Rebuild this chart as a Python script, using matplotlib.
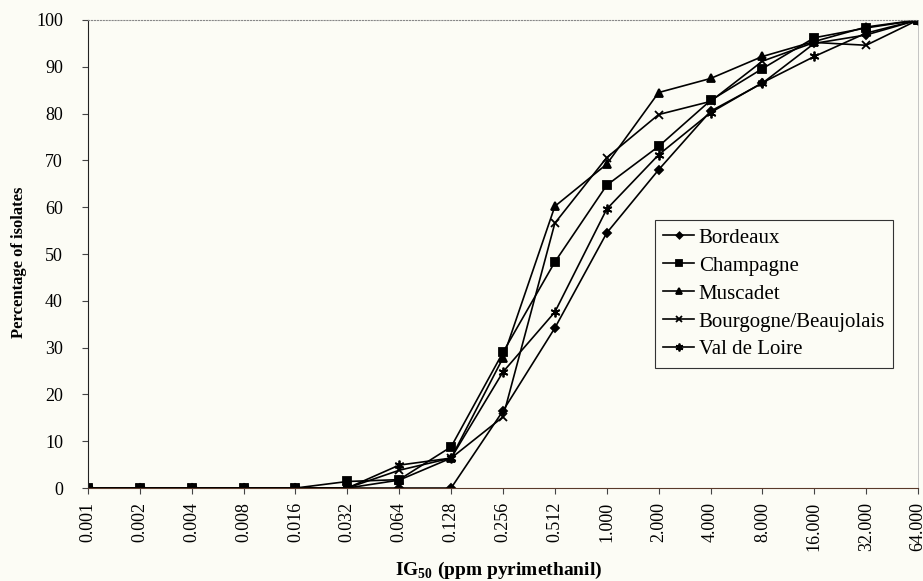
import matplotlib.pyplot as plt

# IG50 classes (ppm pyrimethanil), cumulative percentage of isolates
DOSES = ["0.001", "0.002", "0.004", "0.008", "0.016", "0.032", "0.064", "0.128",
         "0.256", "0.512", "1.000", "2.000", "4.000", "8.000", "16.000",
         "32.000", "64.000"]
YTICKS = [0, 10, 20, 30, 40, 50, 60, 70, 80, 90, 100]

bordeaux   = [0, 0, 0, 0, 0, 0, 0, 0, 16.5, 34.2, 54.5, 68.0, 80.5, 86.5, 95.0, 96.8, 100]
champagne  = [0, 0, 0, 0, 0, 1.4, 1.8, 8.8, 29.0, 48.3, 64.7, 73.0, 82.8, 89.6, 96.2, 98.3, 100]
muscadet   = [0, 0, 0, 0, 0, 0, 1.7, 6.4, 27.8, 60.2, 69.2, 84.5, 87.5, 92.2, 95.4, 98.5, 100]
bourgogne  = [0, 0, 0, 0, 0, 0, 3.8, 6.4, 15.2, 56.6, 70.6, 79.8, 82.6, 91.2, 95.2, 94.6, 100]
val_loire  = [0, 0, 0, 0, 0, 0, 4.9, 6.4, 24.8, 37.6, 59.6, 71.2, 80.2, 86.6, 92.2, 97.2, 100]

SERIES = [
    ("Bordeaux", bordeaux, "D", 4),
    ("Champagne", champagne, "s", 6),
    ("Muscadet", muscadet, "^", 6),
    ("Bourgogne/Beaujolais", bourgogne, "x", 6),
    ("Val de Loire", val_loire, (6, 2, 0), 7),
]

plt.rcParams["font.family"] = ["Liberation Serif", "DejaVu Serif"]
plt.rcParams["mathtext.fontset"] = "custom"
plt.rcParams["mathtext.rm"] = "Liberation Serif"
plt.rcParams["mathtext.bf"] = "Liberation Serif:bold"

BG = "#fcfcf5"
fig = plt.figure(figsize=(9.23, 5.81), dpi=100, facecolor=BG)
ax = fig.add_axes([0.0953, 0.160, 0.8993, 0.8056], facecolor=BG)

x = list(range(len(DOSES)))
for name, vals, mk, ms in SERIES:
    ax.plot(x, vals, color="black", linewidth=1.2, marker=mk, markersize=ms,
            markeredgewidth=1.3, label=name)

ax.set_xlim(0, len(DOSES) - 1)
ax.set_ylim(0, 100)
ax.set_xticks(x)
ax.set_xticklabels(DOSES, rotation=90, fontsize=13)
ax.set_yticks(YTICKS)
ax.set_yticklabels([str(v) for v in YTICKS], fontsize=13)
ax.tick_params(axis="both", direction="out", length=4, width=0.8, color="#444444")
ax.tick_params(axis="y", pad=14)
ax.tick_params(axis="x", pad=6)

ax.spines["left"].set_color("#222222")
ax.spines["bottom"].set_color("#5a3a2a")
ax.spines["top"].set_color("#888888")
ax.spines["top"].set_linestyle(":")
ax.spines["right"].set_color("#bbbbbb")
ax.spines["right"].set_linewidth(0.6)

ax.set_ylabel("Percentage of isolates", fontsize=12, fontweight="bold")
ax.yaxis.set_label_coords(-0.074, 0.483)
ax.set_xlabel(r"IG$_\mathbf{50}$ (ppm pyrimethanil)", fontsize=14, fontweight="bold")
ax.xaxis.set_label_coords(0.495, -0.153)

leg = ax.legend(loc="upper left", bbox_to_anchor=(0.683, 0.573), fontsize=15,
                frameon=True, fancybox=False, edgecolor="#333333", facecolor=BG,
                framealpha=1, handlelength=1.5, handletextpad=0.2,
                labelspacing=0.4, borderpad=0.4, borderaxespad=0,
                markerscale=0.8)
leg.get_frame().set_linewidth(0.8)

fig.savefig("out.png", dpi=100, facecolor=BG)
